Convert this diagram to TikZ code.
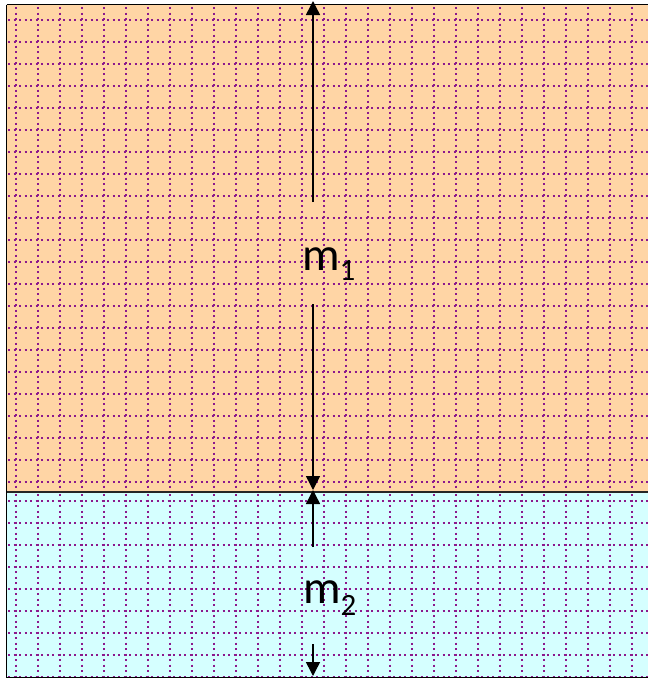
\documentclass[tikz,border=0pt]{standalone}
\usepackage{fontspec}
\setmainfont{Carlito}
\usetikzlibrary{arrows.meta}

\definecolor{upperfill}{RGB}{255,213,165}
\definecolor{lowerfill}{RGB}{213,255,255}
\definecolor{gridpurple}{RGB}{140,25,140}

\begin{document}
\begin{tikzpicture}[
  x=1pt, y=-1pt,
  dotgrid/.style={draw=gridpurple, line width=2.2pt, dash pattern=on 2.2pt off 3.3pt},
  frame/.style={draw=black, line width=1.5pt},
  dimline/.style={draw, line width=1.5pt, -{Triangle[length=14pt,width=14pt]}},
  lbl/.style={font=\fontsize{47}{47}\selectfont, inner sep=0pt, anchor=base west}
]
\useasboundingbox (0,0) rectangle (648,678);

% two layers
\fill[upperfill] (6,5) rectangle (648,492);
\fill[lowerfill] (6,492) rectangle (648,678);

% dotted grid
\foreach \y in {20,42,...,482} \draw[dotgrid] (8,\y) -- (648,\y);
\foreach \y in {501,523,...,677} \draw[dotgrid] (8,\y) -- (648,\y);
\foreach \x in {16,38,...,632} {
  \draw[dotgrid] (\x,7) -- (\x,491);
  \draw[dotgrid] (\x,494) -- (\x,677);
}

% outline
\draw[frame] (6.5,4.5) -- (648,4.5);
\draw[frame] (6.5,4.5) -- (6.5,677.5) -- (648,677.5);
\draw[line width=1.5pt, draw=black!85] (6.5,492) -- (648,492);

% labels
\node[lbl] (m1) at (302,270) {m\raisebox{-10pt}{\fontsize{31}{31}\selectfont 1}};
\node[lbl] (m2) at (303,603) {m\raisebox{-12pt}{\fontsize{31}{31}\selectfont 2}};

\coordinate (topTip) at (313,1);
\coordinate (m1Up) at (313,202);
\coordinate (m1Down) at (313,304);
\coordinate (joinTip) at (313,490);
\coordinate (m2Up) at (313,547);
\coordinate (m2Down) at (313,644);
\coordinate (bottomTip) at (313,676);

\draw[dimline] (m1Up) -- (topTip);
\draw[dimline] (m1Down) -- (joinTip);
\draw[dimline] (m2Up) -- (joinTip);
\draw[dimline] (m2Down) -- (bottomTip);
\end{tikzpicture}
\end{document}
